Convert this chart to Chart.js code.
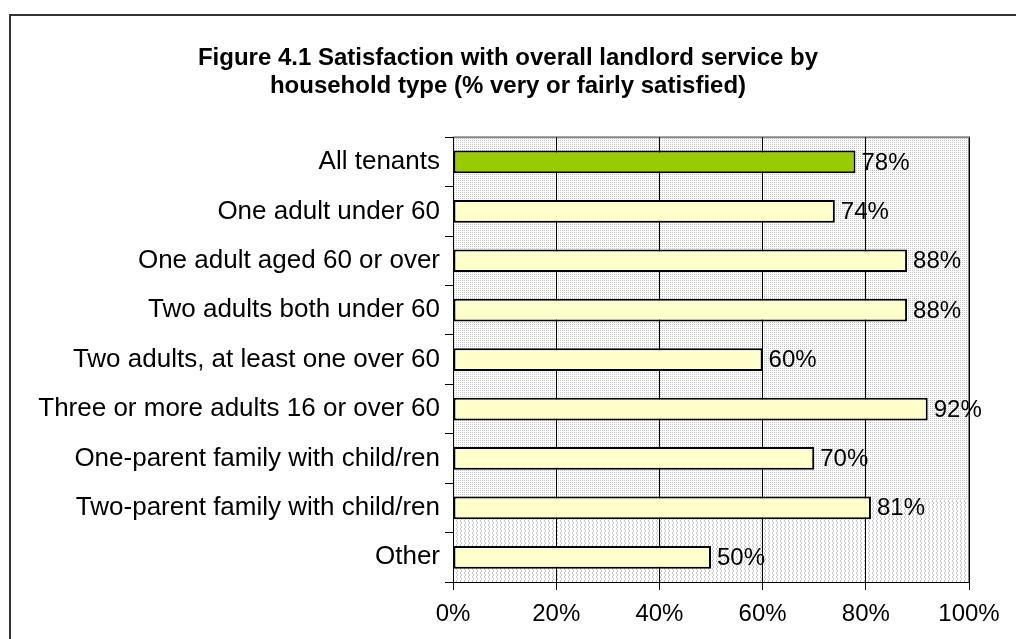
<!DOCTYPE html>
<html>
<head>
<meta charset="utf-8">
<script src="https://cdn.jsdelivr.net/npm/chart.js@4"></script>
<style>
  html, body { margin: 0; padding: 0; background: #fff; }
  #wrap { position: relative; width: 1016px; height: 639px; }
</style>
</head>
<body>
<div id="wrap"><canvas id="chart" width="1016" height="639"></canvas></div>
<script>
const categories = [
    'All tenants',
    'One adult under 60',
    'One adult aged 60 or over',
    'Two adults both under 60',
    'Two adults, at least one over 60',
    'Three or more adults 16 or over 60',
    'One-parent family with child/ren',
    'Two-parent family with child/ren',
    'Other'
];
const satisfied = [78, 74, 88, 88, 60, 92, 70, 81, 50];
const barColors = ['#99CC00', '#FFFFCC', '#FFFFCC', '#FFFFCC', '#FFFFCC', '#FFFFCC', '#FFFFCC', '#FFFFCC', '#FFFFCC'];
const xTicks = [0, 20, 40, 60, 80, 100];
const titleLines = [
    'Figure 4.1 Satisfaction with overall landlord service by',
    'household type (% very or fairly satisfied)'
];

const FONT = '"Liberation Sans", Arial, sans-serif';

// dotted fill like the old spreadsheet plot area
function makePattern(ctx, wavy) {
    const c = document.createElement('canvas');
    c.width = 4; c.height = 4;
    const p = c.getContext('2d');
    p.fillStyle = '#ffffff';
    p.fillRect(0, 0, 4, 4);
    p.fillStyle = '#c8c8c8';
    if (wavy) {
        p.fillRect(0, 0, 1, 2);
        p.fillRect(1, 2, 1, 2);
    } else {
        p.fillRect(0, 0, 1, 1);
        p.fillRect(2, 2, 1, 1);
        p.fillRect(2, 0, 1, 1);
        p.fillRect(0, 2, 1, 1);
    }
    return ctx.createPattern(c, 'repeat');
}

const plotBackground = {
    id: 'plotBackground',
    beforeDraw(chart) {
        const { ctx, chartArea: a } = chart;
        ctx.save();
        // outer frame
        ctx.strokeStyle = '#333';
        ctx.lineWidth = 2;
        ctx.strokeRect(10, 15, 1100, 800);
        ctx.fillStyle = makePattern(ctx, false);
        ctx.fillRect(a.left, a.top, a.right - a.left, a.bottom - a.top);
        const yScale = chart.scales.y;
        const split = yScale.getPixelForValue(7) - 9;
        ctx.fillStyle = makePattern(ctx, true);
        ctx.fillRect(a.left, split, a.right - a.left, a.bottom - split);
        ctx.strokeStyle = '#888';
        ctx.lineWidth = 2;
        ctx.beginPath();
        ctx.moveTo(a.left, a.top);
        ctx.lineTo(a.right, a.top);
        ctx.lineTo(a.right, a.bottom);
        ctx.stroke();
        ctx.restore();
    }
};

const valueLabels = {
    id: 'valueLabels',
    afterDatasetsDraw(chart) {
        const { ctx } = chart;
        const meta = chart.getDatasetMeta(0);
        ctx.save();
        ctx.font = '24px ' + FONT;
        ctx.fillStyle = '#000';
        ctx.textAlign = 'left';
        ctx.textBaseline = 'middle';
        meta.data.forEach((bar, i) => {
            ctx.fillText(satisfied[i] + '%', bar.x + 6, bar.y + 1);
        });
        ctx.restore();
    }
};

new Chart(document.getElementById('chart').getContext('2d'), {
    type: 'bar',
    data: {
        labels: categories,
        datasets: [{
            data: satisfied,
            backgroundColor: barColors,
            borderColor: '#000',
            borderWidth: 2,
            borderSkipped: false,
            barPercentage: 0.46,
            categoryPercentage: 1
        }]
    },
    options: {
        indexAxis: 'y',
        responsive: false,
        animation: false,
        layout: { padding: 0 },
        plugins: {
            legend: { display: false },
            tooltip: { enabled: false },
            title: {
                display: true,
                text: titleLines,
                color: '#000',
                font: { family: FONT, size: 24, weight: 'bold', lineHeight: 1.15 },
                padding: { top: 45, bottom: 37 }
            }
        },
        scales: {
            x: {
                min: 0,
                max: 100,
                afterFit(scale) { scale.height = 57; },
                afterBuildTicks(scale) { scale.ticks = xTicks.map(v => ({ value: v })); },
                ticks: {
                    color: '#000',
                    padding: 10,
                    font: { family: FONT, size: 24 },
                    callback: v => v + '%'
                },
                grid: { color: '#000', lineWidth: 1, tickLength: 8 },
                border: { color: '#000', width: 1 }
            },
            y: {
                afterFit(scale) { scale.width = 453; },
                ticks: {
                    color: '#000',
                    padding: 5,
                    font: { family: FONT, size: 26 }
                },
                grid: { drawOnChartArea: false, color: '#000', tickLength: 8, offset: true },
                border: { color: '#000', width: 1 }
            },
            // empty right-hand margin so the title stays centred on the page
            margin: {
                axis: 'y',
                position: 'right',
                afterFit(scale) { scale.width = 47; },
                ticks: { display: false },
                grid: { display: false },
                border: { display: false }
            }
        }
    },
    plugins: [plotBackground, valueLabels]
});
</script>
</body>
</html>
